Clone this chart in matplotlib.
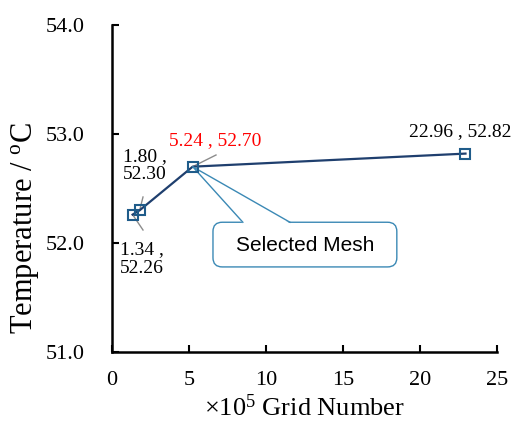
import matplotlib
matplotlib.use('Agg')
import matplotlib.pyplot as plt
from matplotlib.patches import FancyBboxPatch, Polygon

plt.rcParams['font.family'] = ['Liberation Serif', 'DejaVu Serif']
plt.rcParams['mathtext.fontset'] = 'custom'
plt.rcParams['mathtext.rm'] = 'Liberation Serif'
plt.rcParams['mathtext.it'] = 'Liberation Serif:italic'

# 格子数 (×10^5) と温度
grid_number = [1.34, 1.80, 5.24, 22.96]
temperature = [52.26, 52.30, 52.70, 52.82]
selected = 2
x_ticks = [0, 5, 10, 15, 20, 25]
y_ticks = [51.0, 52.0, 53.0, 54.0]

fig = plt.figure(figsize=(5.16, 4.24), dpi=100)
ax = fig.add_axes([0.217, 0.170, 0.746, 0.771])

ax.plot(grid_number, temperature, '-', color='#1F3F6E', linewidth=1.6, zorder=3)
ax.plot(grid_number, temperature, 's', markersize=7, markerfacecolor='none',
        markeredgecolor='#1F5C8A', markeredgewidth=1.5, zorder=4)

ax.set_xlim(0, 25)
ax.set_ylim(51, 54)
ax.set_xticks(x_ticks)
ax.set_yticks(y_ticks)
ax.set_yticklabels([f'{v:.1f}' for v in y_ticks])
ax.tick_params(direction='in', labelsize=16, length=5, width=1.5)
ax.tick_params(axis='x', pad=14)
ax.tick_params(axis='y', pad=20)
for s in ['top', 'right']:
    ax.spines[s].set_visible(False)
for s in ['left', 'bottom']:
    ax.spines[s].set_linewidth(1.8)

ax.set_xlabel(r'×10$^{5}$ Grid Number', fontsize=19)
ax.xaxis.set_label_coords(0.5, -0.13)
ax.set_ylabel(r'Temperature / $^{\mathrm{o}}$C', fontsize=22, va='center')
ax.yaxis.set_label_coords(-0.225, 0.379)

# 各点のラベル (点からのオフセット, pt)
labels = ['1.34 ,\n52.26', '1.80 ,\n52.30', '5.24 , 52.70', '22.96 , 52.82']
offsets = [(6.5, -32), (3.6, 32), (16, 19), (-4, 15.5)]
colors = ['black', 'black', 'red', 'black']
for i, (x, y) in enumerate(zip(grid_number, temperature)):
    ax.annotate(labels[i], (x, y), xytext=offsets[i], textcoords='offset points',
                ha='center', va='center', fontsize=14, color=colors[i],
                linespacing=1.1, zorder=5)
# 引き出し線 (ピクセル位置)
leader_ends = [(143, 230), (143, 197), (216, 155)]
for i, (px, py) in enumerate(leader_ends):
    x, y = grid_number[i], temperature[i]
    ex, ey = ax.transData.inverted().transform((px, 424 - py))
    ax.plot([x, ex], [y, ey], color='#8C8C8C', linewidth=1.0, zorder=2)

# 吹き出し "Selected Mesh"
bx0, bx1, by0, by1 = 6.56, 18.5, 51.78, 52.19
box = FancyBboxPatch((bx0, by0), bx1 - bx0, by1 - by0,
                     boxstyle='round,pad=0,rounding_size=0.6',
                     mutation_aspect=0.14, facecolor='white',
                     edgecolor='#3B89B5', linewidth=1.0, zorder=3)
ax.add_patch(box)
tip = (grid_number[selected], temperature[selected])
b1, b2 = (8.5, by1), (11.56, by1)
tri = Polygon([(b1[0], by1 - 0.01), tip, (b2[0], by1 - 0.01)], closed=True,
              facecolor='white', edgecolor='none', zorder=3.5)
ax.add_patch(tri)
ax.plot([b1[0], tip[0], b2[0]], [b1[1], tip[1], b2[1]], color='#3B89B5',
        linewidth=1.0, zorder=3.6)
ax.text((bx0 + bx1) / 2, (by0 + by1) / 2 - 0.01, 'Selected Mesh', fontsize=15,
        family=['Liberation Sans', 'DejaVu Sans'], ha='center', va='center',
        zorder=4)

fig.savefig('out.png', dpi=100)
